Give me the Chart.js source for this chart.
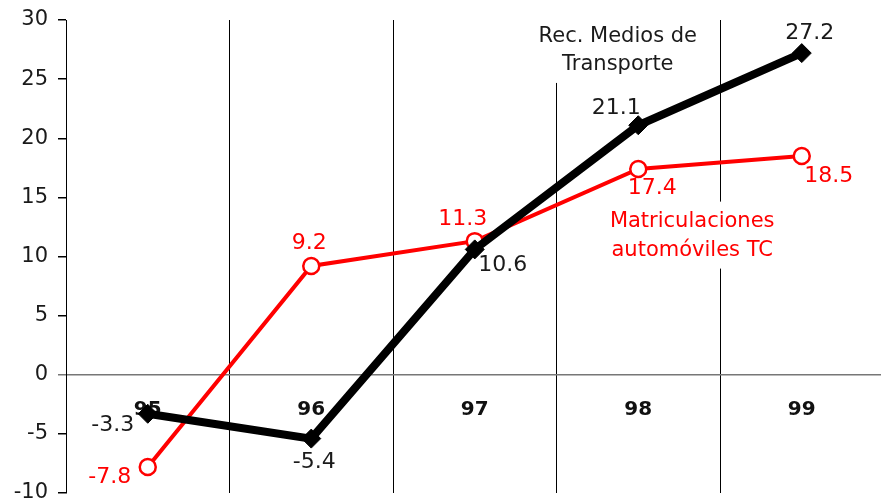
<!DOCTYPE html>
<html>
<head>
<meta charset="utf-8">
<script src="https://cdn.jsdelivr.net/npm/chart.js@4.4.1/dist/chart.umd.min.js"></script>
<style>
  html, body { margin: 0; padding: 0; overflow: hidden; background: #fff; }
  #wrap { width: 894px; height: 513px; position: relative; }
</style>
</head>
<body>
<div id="wrap"><canvas id="myChart"></canvas></div>
<script>
const years = ['95', '96', '97', '98', '99'];
const recMedios = [-3.3, -5.4, 10.6, 21.1, 27.2];
const matriculaciones = [-7.8, 9.2, 11.3, 17.4, 18.5];
const yMin = -10, yMax = 30, yStep = 5;

// label offsets (px) from each point
const blackOffsets = [[-35, 12], [3, 24], [28, 16], [-22, -17], [8, -20]];
const redOffsets = [[-38, 10], [-2, -23], [-12, -22], [14, 19], [27, 20]];

// series notes: x as category index, y as value
const notes = [
    { lines: ['Rec. Medios de', 'Transporte'], x: 2.875, y: [28.6, 26.2], color: '#1a1a1a' },
    { lines: ['Matriculaciones', 'automóviles TC'], x: 3.33, y: [12.95, 10.5], color: '#ff0000' }
];

const FONT = '"DejaVu Sans", Verdana, sans-serif';

const labelsPlugin = {
    id: 'labelsPlugin',
    beforeDatasetsDraw(chart) {
        const ctx = chart.ctx;
        const xs = chart.scales.x, ys = chart.scales.y;
        ctx.save();
        // notes with white background
        ctx.font = '21px ' + FONT;
        ctx.textAlign = 'center';
        ctx.textBaseline = 'middle';
        notes.forEach(n => {
            const cx = xs.getPixelForValue(n.x);
            const w = Math.max(...n.lines.map(l => ctx.measureText(l).width));
            const y1 = ys.getPixelForValue(n.y[0]);
            const y2 = ys.getPixelForValue(n.y[n.y.length - 1]);
            ctx.fillStyle = '#fff';
            ctx.fillRect(cx - w / 2 - 8, y1 - 20, w + 16, y2 - y1 + 38);
            ctx.fillStyle = n.color;
            n.lines.forEach((l, i) => ctx.fillText(l, cx, ys.getPixelForValue(n.y[i])));
        });
        // category labels along zero line
        ctx.font = 'bold 20px ' + FONT;
        ctx.fillStyle = '#111';
        const y0 = ys.getPixelForValue(0);
        years.forEach((yr, i) => ctx.fillText(yr, xs.getPixelForValue(i), y0 + 35));
        ctx.restore();
    },
    afterDatasetsDraw(chart) {
        const ctx = chart.ctx;
        ctx.save();
        ctx.font = '22px ' + FONT;
        ctx.textAlign = 'center';
        ctx.textBaseline = 'middle';
        [[0, blackOffsets, '#1a1a1a'], [1, redOffsets, '#ff0000']].forEach(([di, offs, col]) => {
            const meta = chart.getDatasetMeta(di);
            const vals = chart.data.datasets[di].data;
            ctx.fillStyle = col;
            meta.data.forEach((pt, i) => {
                ctx.fillText(vals[i].toFixed(1), pt.x + offs[i][0], pt.y + offs[i][1]);
            });
        });
        ctx.restore();
    }
};

const ctx = document.getElementById('myChart').getContext('2d');
const myChart = new Chart(ctx, {
    type: 'line',
    data: {
        labels: years,
        datasets: [
            {
                label: 'Rec. Medios de Transporte',
                data: recMedios,
                borderColor: '#000',
                backgroundColor: '#000',
                borderWidth: 8,
                pointStyle: 'rectRot',
                pointRadius: 9.5,
                pointBorderWidth: 1,
                pointBackgroundColor: '#000',
                tension: 0
            },
            {
                label: 'Matriculaciones automóviles TC',
                data: matriculaciones,
                borderColor: '#ff0000',
                backgroundColor: '#fff',
                borderWidth: 4,
                pointStyle: 'circle',
                pointRadius: 8,
                pointBorderWidth: 2.5,
                pointBackgroundColor: '#fff',
                tension: 0
            }
        ]
    },
    options: {
        responsive: true,
        maintainAspectRatio: false,
        animation: false,
        layout: { padding: { top: 20, right: 0, bottom: 20, left: 0 } },
        plugins: {
            legend: { display: false },
            tooltip: { enabled: false }
        },
        scales: {
            x: {
                offset: true,
                grid: { offset: true, color: '#000', lineWidth: 1, drawTicks: false },
                border: { display: false },
                ticks: { display: false }
            },
            y: {
                min: yMin,
                max: yMax,
                afterFit(s) { s.width = 66; },
                ticks: {
                    stepSize: yStep,
                    padding: 10,
                    color: '#1a1a1a',
                    font: { family: FONT, size: 21, lineHeight: 0.9 }
                },
                grid: {
                    color: c => (c.tick && c.tick.value === 0) ? '#777' : 'rgba(0,0,0,0)',
                    tickColor: c => (c.tick && c.tick.value === 0) ? '#777' : '#000',
                    tickLength: 8,
                    lineWidth: 1.5
                },
                border: { display: true, color: '#000', width: 1 }
            }
        }
    },
    plugins: [labelsPlugin]
});
</script>
</body>
</html>
